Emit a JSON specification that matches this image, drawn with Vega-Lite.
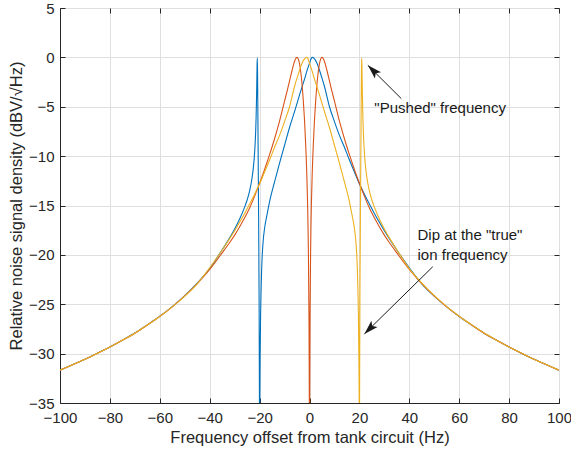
{
  "$schema": "https://vega.github.io/schema/vega-lite/v6.json",
  "width": 499,
  "height": 395,
  "autosize": {"type": "none"},
  "padding": {"left": 60, "top": 8, "right": 12, "bottom": 52},
  "background": "white",
  "config": {
    "view": {"stroke": "#262626", "strokeWidth": 1},
    "font": "Liberation Sans",
    "axis": {
      "gridColor": "#dfdfdf",
      "gridWidth": 1,
      "domainColor": "#262626",
      "tickColor": "#262626",
      "labelColor": "#262626",
      "titleColor": "#262626",
      "labelFont": "Liberation Sans",
      "titleFont": "Liberation Sans",
      "labelFontSize": 15,
      "titleFontSize": 16.5,
      "titleFontWeight": "normal",
      "labelFlush": false
    }
  },
  "datasets": {
    "curves": [
      {"s": "blue", "f": -100, "db": -31.68}, {"s": "blue", "f": -95, "db": -31.13}, {"s": "blue", "f": -90, "db": -30.57},
      {"s": "blue", "f": -85, "db": -29.95}, {"s": "blue", "f": -80, "db": -29.32}, {"s": "blue", "f": -75, "db": -28.64},
      {"s": "blue", "f": -70, "db": -27.92}, {"s": "blue", "f": -65, "db": -27.09}, {"s": "blue", "f": -60, "db": -26.22},
      {"s": "blue", "f": -55, "db": -25.24}, {"s": "blue", "f": -50, "db": -24.13}, {"s": "blue", "f": -45, "db": -22.87},
      {"s": "blue", "f": -40, "db": -21.4}, {"s": "blue", "f": -35, "db": -19.48}, {"s": "blue", "f": -32, "db": -18.28},
      {"s": "blue", "f": -30, "db": -17.38}, {"s": "blue", "f": -28, "db": -16.37}, {"s": "blue", "f": -26, "db": -15.17},
      {"s": "blue", "f": -25, "db": -14.44}, {"s": "blue", "f": -24, "db": -13.52}, {"s": "blue", "f": -23, "db": -12.16},
      {"s": "blue", "f": -22.5, "db": -11.16}, {"s": "blue", "f": -22, "db": -9.66}, {"s": "blue", "f": -21.8, "db": -8.8},
      {"s": "blue", "f": -21.6, "db": -7.67}, {"s": "blue", "f": -21.4, "db": -6.09}, {"s": "blue", "f": -21.2, "db": -3.76},
      {"s": "blue", "f": -21.1, "db": -2.2}, {"s": "blue", "f": -21.0, "db": -0.61}, {"s": "blue", "f": -20.9, "db": -0.06},
      {"s": "blue", "f": -20.8, "db": -1.95}, {"s": "blue", "f": -20.7, "db": -5.34}, {"s": "blue", "f": -20.6, "db": -8.94},
      {"s": "blue", "f": -20.5, "db": -12.47}, {"s": "blue", "f": -20.4, "db": -16.05}, {"s": "blue", "f": -20.3, "db": -19.95},
      {"s": "blue", "f": -20.2, "db": -24.68}, {"s": "blue", "f": -20.1, "db": -31.76}, {"s": "blue", "f": -20.0, "db": -40},
      {"s": "blue", "f": -19.9, "db": -34}, {"s": "blue", "f": -19.8, "db": -30.5}, {"s": "blue", "f": -19.6, "db": -26},
      {"s": "blue", "f": -19.4, "db": -23.5}, {"s": "blue", "f": -19.2, "db": -21.6}, {"s": "blue", "f": -19.0, "db": -20.3},
      {"s": "blue", "f": -18.5, "db": -18.4}, {"s": "blue", "f": -18, "db": -17.3}, {"s": "blue", "f": -17, "db": -15.9},
      {"s": "blue", "f": -16, "db": -14.6}, {"s": "blue", "f": -14, "db": -12.6}, {"s": "blue", "f": -12, "db": -10.7},
      {"s": "blue", "f": -10, "db": -8.9}, {"s": "blue", "f": -8, "db": -7.1}, {"s": "blue", "f": -6, "db": -5.5},
      {"s": "blue", "f": -4, "db": -3.8}, {"s": "blue", "f": -2, "db": -2.2}, {"s": "blue", "f": -1, "db": -1.35},
      {"s": "blue", "f": 0, "db": -0.6}, {"s": "blue", "f": 0.7, "db": -0.1}, {"s": "blue", "f": 1.2, "db": 0},
      {"s": "blue", "f": 2, "db": -0.15}, {"s": "blue", "f": 3, "db": -0.6}, {"s": "blue", "f": 4, "db": -1.3},
      {"s": "blue", "f": 5, "db": -2.1}, {"s": "blue", "f": 6, "db": -2.95}, {"s": "blue", "f": 8, "db": -5.0},
      {"s": "blue", "f": 10, "db": -6.5}, {"s": "blue", "f": 12, "db": -7.9}, {"s": "blue", "f": 14, "db": -9.1},
      {"s": "blue", "f": 16, "db": -10.4}, {"s": "blue", "f": 18, "db": -11.6}, {"s": "blue", "f": 20, "db": -12.8},
      {"s": "blue", "f": 22, "db": -13.85}, {"s": "blue", "f": 24, "db": -14.85}, {"s": "blue", "f": 26, "db": -15.8},
      {"s": "blue", "f": 28, "db": -16.7}, {"s": "blue", "f": 30, "db": -17.55}, {"s": "blue", "f": 32, "db": -18.35},
      {"s": "blue", "f": 35, "db": -19.5}, {"s": "blue", "f": 40, "db": -21.3}, {"s": "blue", "f": 45, "db": -22.93},
      {"s": "blue", "f": 50, "db": -24.18}, {"s": "blue", "f": 55, "db": -25.27}, {"s": "blue", "f": 60, "db": -26.24},
      {"s": "blue", "f": 65, "db": -27.1}, {"s": "blue", "f": 70, "db": -27.93}, {"s": "blue", "f": 75, "db": -28.65},
      {"s": "blue", "f": 80, "db": -29.33}, {"s": "blue", "f": 85, "db": -29.96}, {"s": "blue", "f": 90, "db": -30.58},
      {"s": "blue", "f": 95, "db": -31.13}, {"s": "blue", "f": 100, "db": -31.68},

      {"s": "orange", "f": -100, "db": -31.68}, {"s": "orange", "f": -95, "db": -31.13}, {"s": "orange", "f": -90, "db": -30.58},
      {"s": "orange", "f": -85, "db": -29.96}, {"s": "orange", "f": -80, "db": -29.33}, {"s": "orange", "f": -75, "db": -28.65},
      {"s": "orange", "f": -70, "db": -27.93}, {"s": "orange", "f": -65, "db": -27.1}, {"s": "orange", "f": -60, "db": -26.23},
      {"s": "orange", "f": -55, "db": -25.26}, {"s": "orange", "f": -50, "db": -24.16}, {"s": "orange", "f": -45, "db": -22.91},
      {"s": "orange", "f": -40, "db": -21.48}, {"s": "orange", "f": -35, "db": -19.8}, {"s": "orange", "f": -32, "db": -18.75},
      {"s": "orange", "f": -30, "db": -18.0}, {"s": "orange", "f": -28, "db": -17.15}, {"s": "orange", "f": -26, "db": -16.25},
      {"s": "orange", "f": -24, "db": -15.25}, {"s": "orange", "f": -22, "db": -14.05}, {"s": "orange", "f": -20, "db": -12.75},
      {"s": "orange", "f": -18, "db": -11.35}, {"s": "orange", "f": -16, "db": -9.85}, {"s": "orange", "f": -14, "db": -8.24},
      {"s": "orange", "f": -12, "db": -6.45}, {"s": "orange", "f": -10, "db": -4.42}, {"s": "orange", "f": -9, "db": -3.44},
      {"s": "orange", "f": -8, "db": -2.39}, {"s": "orange", "f": -7, "db": -1.33}, {"s": "orange", "f": -6, "db": -0.42},
      {"s": "orange", "f": -5.5, "db": -0.12}, {"s": "orange", "f": -5, "db": 0}, {"s": "orange", "f": -4.5, "db": -0.15},
      {"s": "orange", "f": -4, "db": -0.63}, {"s": "orange", "f": -3.5, "db": -1.48}, {"s": "orange", "f": -3, "db": -2.7},
      {"s": "orange", "f": -2.5, "db": -4.31}, {"s": "orange", "f": -2, "db": -6.34}, {"s": "orange", "f": -1.5, "db": -8.97},
      {"s": "orange", "f": -1, "db": -12.59}, {"s": "orange", "f": -0.5, "db": -18.69}, {"s": "orange", "f": -0.2, "db": -26.67},
      {"s": "orange", "f": -0.1, "db": -32.69}, {"s": "orange", "f": 0, "db": -40}, {"s": "orange", "f": 0.1, "db": -32.69},
      {"s": "orange", "f": 0.2, "db": -26.67}, {"s": "orange", "f": 0.5, "db": -18.69}, {"s": "orange", "f": 1, "db": -12.59},
      {"s": "orange", "f": 1.5, "db": -8.97}, {"s": "orange", "f": 2, "db": -6.34}, {"s": "orange", "f": 2.5, "db": -4.31},
      {"s": "orange", "f": 3, "db": -2.7}, {"s": "orange", "f": 3.5, "db": -1.48}, {"s": "orange", "f": 4, "db": -0.63},
      {"s": "orange", "f": 4.5, "db": -0.15}, {"s": "orange", "f": 5, "db": 0}, {"s": "orange", "f": 5.5, "db": -0.12},
      {"s": "orange", "f": 6, "db": -0.42}, {"s": "orange", "f": 7, "db": -1.33}, {"s": "orange", "f": 8, "db": -2.39},
      {"s": "orange", "f": 9, "db": -3.44}, {"s": "orange", "f": 10, "db": -4.42}, {"s": "orange", "f": 12, "db": -6.45},
      {"s": "orange", "f": 14, "db": -8.24}, {"s": "orange", "f": 16, "db": -9.85}, {"s": "orange", "f": 18, "db": -11.35},
      {"s": "orange", "f": 20, "db": -12.75}, {"s": "orange", "f": 22, "db": -14.05}, {"s": "orange", "f": 24, "db": -15.25},
      {"s": "orange", "f": 26, "db": -16.25}, {"s": "orange", "f": 28, "db": -17.15}, {"s": "orange", "f": 30, "db": -18.0},
      {"s": "orange", "f": 32, "db": -18.75}, {"s": "orange", "f": 35, "db": -19.8}, {"s": "orange", "f": 40, "db": -21.48},
      {"s": "orange", "f": 45, "db": -22.91}, {"s": "orange", "f": 50, "db": -24.16}, {"s": "orange", "f": 55, "db": -25.26},
      {"s": "orange", "f": 60, "db": -26.23}, {"s": "orange", "f": 65, "db": -27.1}, {"s": "orange", "f": 70, "db": -27.93},
      {"s": "orange", "f": 75, "db": -28.65}, {"s": "orange", "f": 80, "db": -29.33}, {"s": "orange", "f": 85, "db": -29.96},
      {"s": "orange", "f": 90, "db": -30.58}, {"s": "orange", "f": 95, "db": -31.13}, {"s": "orange", "f": 100, "db": -31.68},

      {"s": "yellow", "f": 100, "db": -31.68}, {"s": "yellow", "f": 95, "db": -31.13}, {"s": "yellow", "f": 90, "db": -30.57},
      {"s": "yellow", "f": 85, "db": -29.95}, {"s": "yellow", "f": 80, "db": -29.32}, {"s": "yellow", "f": 75, "db": -28.64},
      {"s": "yellow", "f": 70, "db": -27.92}, {"s": "yellow", "f": 65, "db": -27.09}, {"s": "yellow", "f": 60, "db": -26.22},
      {"s": "yellow", "f": 55, "db": -25.24}, {"s": "yellow", "f": 50, "db": -24.13}, {"s": "yellow", "f": 45, "db": -22.87},
      {"s": "yellow", "f": 40, "db": -21.4}, {"s": "yellow", "f": 35, "db": -19.48}, {"s": "yellow", "f": 32, "db": -18.28},
      {"s": "yellow", "f": 30, "db": -17.38}, {"s": "yellow", "f": 28, "db": -16.37}, {"s": "yellow", "f": 26, "db": -15.17},
      {"s": "yellow", "f": 25, "db": -14.44}, {"s": "yellow", "f": 24, "db": -13.52}, {"s": "yellow", "f": 23, "db": -12.16},
      {"s": "yellow", "f": 22.5, "db": -11.16}, {"s": "yellow", "f": 22, "db": -9.66}, {"s": "yellow", "f": 21.8, "db": -8.8},
      {"s": "yellow", "f": 21.6, "db": -7.67}, {"s": "yellow", "f": 21.4, "db": -6.09}, {"s": "yellow", "f": 21.2, "db": -3.76},
      {"s": "yellow", "f": 21.1, "db": -2.2}, {"s": "yellow", "f": 21.0, "db": -0.61}, {"s": "yellow", "f": 20.9, "db": -0.06},
      {"s": "yellow", "f": 20.8, "db": -1.95}, {"s": "yellow", "f": 20.7, "db": -5.34}, {"s": "yellow", "f": 20.6, "db": -8.94},
      {"s": "yellow", "f": 20.5, "db": -12.47}, {"s": "yellow", "f": 20.4, "db": -16.05}, {"s": "yellow", "f": 20.3, "db": -19.95},
      {"s": "yellow", "f": 20.2, "db": -24.68}, {"s": "yellow", "f": 20.1, "db": -31.76}, {"s": "yellow", "f": 20.0, "db": -40},
      {"s": "yellow", "f": 19.9, "db": -34}, {"s": "yellow", "f": 19.8, "db": -30.5}, {"s": "yellow", "f": 19.6, "db": -26},
      {"s": "yellow", "f": 19.4, "db": -23.5}, {"s": "yellow", "f": 19.2, "db": -21.6}, {"s": "yellow", "f": 19.0, "db": -20.3},
      {"s": "yellow", "f": 18.5, "db": -18.4}, {"s": "yellow", "f": 18, "db": -17.3}, {"s": "yellow", "f": 17, "db": -15.9},
      {"s": "yellow", "f": 16, "db": -14.6}, {"s": "yellow", "f": 14, "db": -12.6}, {"s": "yellow", "f": 12, "db": -10.7},
      {"s": "yellow", "f": 10, "db": -8.9}, {"s": "yellow", "f": 8, "db": -7.1}, {"s": "yellow", "f": 6, "db": -5.5},
      {"s": "yellow", "f": 4, "db": -3.8}, {"s": "yellow", "f": 2, "db": -2.2}, {"s": "yellow", "f": 1, "db": -1.35},
      {"s": "yellow", "f": 0, "db": -0.6}, {"s": "yellow", "f": -0.7, "db": -0.1}, {"s": "yellow", "f": -1.2, "db": 0},
      {"s": "yellow", "f": -2, "db": -0.15}, {"s": "yellow", "f": -3, "db": -0.6}, {"s": "yellow", "f": -4, "db": -1.3},
      {"s": "yellow", "f": -5, "db": -2.1}, {"s": "yellow", "f": -6, "db": -2.95}, {"s": "yellow", "f": -8, "db": -5.0},
      {"s": "yellow", "f": -10, "db": -6.5}, {"s": "yellow", "f": -12, "db": -7.9}, {"s": "yellow", "f": -14, "db": -9.1},
      {"s": "yellow", "f": -16, "db": -10.4}, {"s": "yellow", "f": -18, "db": -11.6}, {"s": "yellow", "f": -20, "db": -12.8},
      {"s": "yellow", "f": -22, "db": -13.85}, {"s": "yellow", "f": -24, "db": -14.85}, {"s": "yellow", "f": -26, "db": -15.8},
      {"s": "yellow", "f": -28, "db": -16.7}, {"s": "yellow", "f": -30, "db": -17.55}, {"s": "yellow", "f": -32, "db": -18.35},
      {"s": "yellow", "f": -35, "db": -19.5}, {"s": "yellow", "f": -40, "db": -21.3}, {"s": "yellow", "f": -45, "db": -22.93},
      {"s": "yellow", "f": -50, "db": -24.18}, {"s": "yellow", "f": -55, "db": -25.27}, {"s": "yellow", "f": -60, "db": -26.24},
      {"s": "yellow", "f": -65, "db": -27.1}, {"s": "yellow", "f": -70, "db": -27.93}, {"s": "yellow", "f": -75, "db": -28.65},
      {"s": "yellow", "f": -80, "db": -29.33}, {"s": "yellow", "f": -85, "db": -29.96}, {"s": "yellow", "f": -90, "db": -30.58},
      {"s": "yellow", "f": -95, "db": -31.13}, {"s": "yellow", "f": -100, "db": -31.68}
    ],
    "labels": [
      {"f": 26, "db": -5.16, "t": "\"Pushed\" frequency"},
      {"f": 43.3, "db": -18.03, "t": "Dip at the \"true\""},
      {"f": 43.3, "db": -20.05, "t": "ion frequency"}
    ],
    "arrows": [
      {"id": 1, "f": 36.8, "db": -4.18, "f2": 23.4, "db2": -0.81},
      {"id": 2, "f": 49.4, "db": -21.2, "f2": 22.0, "db2": -28.0}
    ],
    "heads": [
      {"id": 1, "f": 23.4, "db": -0.81},
      {"id": 2, "f": 22.0, "db": -28.0}
    ]
  },
  "resolve": {"axis": {"x": "independent", "y": "independent"}},
  "layer": [
    {
      "encoding": {
        "x": {
          "field": "f", "type": "quantitative",
          "scale": {"domain": [-100, 100], "nice": false, "zero": false},
          "axis": {"title": "Frequency offset from tank circuit (Hz)", "values": [-100, -80, -60, -40, -20, 0, 20, 40, 60, 80, 100], "ticks": false, "labelPadding": 7, "titlePadding": 4}
        },
        "y": {
          "field": "db", "type": "quantitative",
          "scale": {"domain": [-35, 5], "nice": false, "zero": false},
          "axis": {"title": "Relative noise signal density (dBV/√Hz)", "values": [-35, -30, -25, -20, -15, -10, -5, 0, 5], "ticks": false, "labelPadding": 6, "titlePadding": 4}
        }
      },
      "layer": [
        {
          "data": {"name": "curves"},
          "transform": [{"filter": "datum.s === 'blue'"}],
          "mark": {"type": "line", "clip": true, "color": "#0072BD", "strokeWidth": 1.1, "interpolate": "monotone"}
        },
        {
          "data": {"name": "curves"},
          "transform": [{"filter": "datum.s === 'orange'"}],
          "mark": {"type": "line", "clip": true, "color": "#D95319", "strokeWidth": 1.1, "interpolate": "monotone"}
        },
        {
          "data": {"name": "curves"},
          "transform": [{"filter": "datum.s === 'yellow'"}],
          "mark": {"type": "line", "clip": true, "color": "#EDB120", "strokeWidth": 1.1, "interpolate": "monotone"}
        },
        {
          "data": {"name": "labels"},
          "mark": {"type": "text", "align": "left", "baseline": "middle", "fontSize": 15, "font": "Liberation Sans", "color": "#1a1a1a"},
          "encoding": {"text": {"field": "t"}}
        },
        {
          "data": {"name": "arrows"},
          "mark": {"type": "rule", "color": "#1a1a1a", "strokeWidth": 1},
          "encoding": {
            "x2": {"field": "f2"},
            "y2": {"field": "db2"}
          }
        },
        {
          "data": {"name": "heads"},
          "transform": [{"filter": "datum.id === 1"}],
          "mark": {"type": "point", "filled": true, "color": "#1a1a1a", "opacity": 1, "size": 250, "angle": 315, "shape": "M0,0L-0.55,1.8L0,1.4L0.55,1.8Z", "strokeWidth": 0}
        },
        {
          "data": {"name": "heads"},
          "transform": [{"filter": "datum.id === 2"}],
          "mark": {"type": "point", "filled": true, "color": "#1a1a1a", "opacity": 1, "size": 250, "angle": 225, "shape": "M0,0L-0.55,1.8L0,1.4L0.55,1.8Z", "strokeWidth": 0}
        }
      ]
    },
    {
      "data": {"name": "heads"},
      "mark": {"type": "point", "opacity": 0},
      "encoding": {
        "x": {
          "field": "f", "type": "quantitative",
          "axis": {"orient": "top", "labels": false, "title": null, "grid": false, "domain": false, "tickSize": -5, "values": [-100, -80, -60, -40, -20, 0, 20, 40, 60, 80, 100]}
        },
        "y": {
          "field": "db", "type": "quantitative",
          "axis": {"orient": "right", "labels": false, "title": null, "grid": false, "domain": false, "tickSize": -5, "values": [-35, -30, -25, -20, -15, -10, -5, 0, 5]}
        }
      }
    },
    {
      "data": {"name": "heads"},
      "mark": {"type": "point", "opacity": 0},
      "encoding": {
        "x": {
          "field": "f", "type": "quantitative",
          "axis": {"orient": "bottom", "labels": false, "title": null, "grid": false, "domain": false, "tickSize": -5, "values": [-100, -80, -60, -40, -20, 0, 20, 40, 60, 80, 100]}
        },
        "y": {
          "field": "db", "type": "quantitative",
          "axis": {"orient": "left", "labels": false, "title": null, "grid": false, "domain": false, "tickSize": -5, "values": [-35, -30, -25, -20, -15, -10, -5, 0, 5]}
        }
      }
    }
  ]
}
